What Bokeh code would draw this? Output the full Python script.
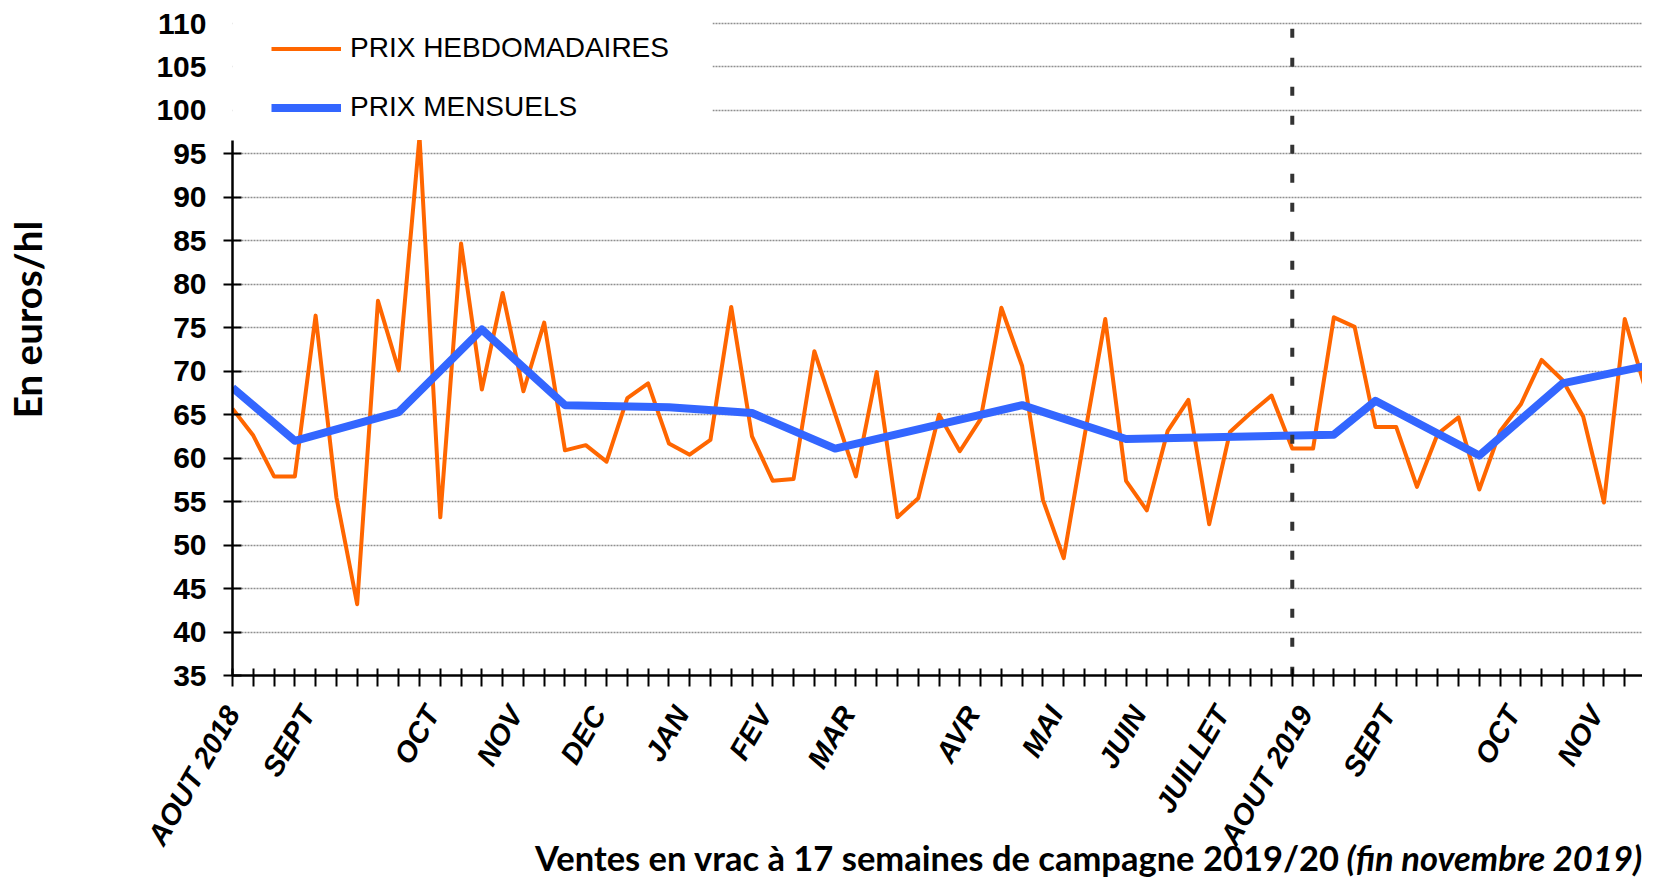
import math
from bokeh.plotting import figure
from bokeh.models import (Range1d, FixedTicker, Legend, LegendItem, BoxAnnotation,
                          LinearAxis, Title)
from bokeh.embed import file_html
from bokeh.resources import INLINE

# ---------------- data ----------------
weeks = list(range(70))
weekly_prices = [65.7, 62.6, 57.9, 57.9, 76.4, 55.5, 43.2, 78.1, 70.1, 97.0,
                 53.2, 84.7, 67.9, 79.0, 67.7, 75.6, 60.9, 61.5, 59.6, 66.9,
                 68.6, 61.7, 60.4, 62.1, 77.4, 62.5, 57.4, 57.6, 72.3, 65.1,
                 57.9, 69.9, 53.2, 55.4, 65.0, 60.8, 64.5, 77.3, 70.6, 55.2,
                 48.5, 62.5, 76.0, 57.4, 54.0, 63.1, 66.7, 52.4, 63.0, 65.2,
                 67.2, 61.1, 61.1, 76.2, 75.1, 63.6, 63.6, 56.7, 62.8, 64.7,
                 56.4, 63.1, 66.2, 71.3, 69.0, 64.8, 54.9, 76.0, 67.9, 81.0]

month_weeks = [0, 3, 8, 12, 16, 21, 25, 29, 38, 43, 53, 55, 60, 64, 69]
monthly_prices = [68.1, 62.0, 65.3, 74.8, 66.1, 65.85, 65.2, 61.1, 66.1, 62.2,
                  62.7, 66.6, 60.3, 68.6, 71.1]

label_weeks = [0, 4, 10, 14, 18, 22, 26, 30, 36, 40, 44, 48, 52, 56, 62, 66]
month_labels = ["AOUT 2018", "SEPT", "OCT", "NOV", "DEC", "JAN", "FEV", "MAR",
                "AVR", "MAI", "JUIN", "JUILLET", "AOUT 2019", "SEPT", "OCT", "NOV"]

y_ticks = [35, 40, 45, 50, 55, 60, 65, 70, 75, 80, 85, 90, 95, 100, 105, 110]
campaign_break_week = 51

series_names = ["PRIX HEBDOMADAIRES", "PRIX MENSUELS"]
y_title = "En euros/hl"
x_title_main = "Ventes en vrac à 17 semaines de campagne 2019/20"
x_title_italic = "(fin novembre 2019)"

# ---------------- layout ----------------
W, H = 1642, 880
left_b, top_b, bottom_b = 232, 21, 205
frame_w = W - left_b
px_per_week = 20.78
px_per_unit = 8.693
y_top = 35 + (H - bottom_b - top_b) / px_per_unit
axis_top_value = 96.6          # y axis line stops under the legend area
label_shift = 8 / px_per_week  # Excel puts the rotated label end on the tick

p = figure(width=W, height=H, output_backend="svg", toolbar_location=None,
           x_range=Range1d(0, frame_w / px_per_week), y_range=Range1d(35, y_top),
           min_border_left=left_b, min_border_right=0, min_border_top=top_b,
           min_border_bottom=bottom_b)
p.outline_line_color = None
p.background_fill_color = "white"

def bare(ax):
    ax.axis_line_color = None
    ax.major_tick_line_color = None
    ax.minor_tick_line_color = None
    ax.major_tick_in = 0
    ax.major_tick_out = 0
    ax.minor_tick_in = 0
    ax.minor_tick_out = 0

# ---- x axis: weekly tick marks ----
xa = p.xaxis[0]
xa.ticker = FixedTicker(ticks=weeks)
xa.major_label_overrides = {w: "" for w in weeks}
xa.major_label_text_font_size = "1px"
xa.major_label_standoff = 0
xa.axis_line_width = 2.5
xa.axis_line_color = "black"
xa.major_tick_line_width = 2
xa.major_tick_line_color = "black"
xa.major_tick_in = 7
xa.major_tick_out = 11
xa.minor_tick_line_color = None

# ---- x axis: month labels ----
lab_ticks = [max(0.0, w - label_shift) for w in label_weeks]
xl = LinearAxis(ticker=FixedTicker(ticks=lab_ticks),
                major_label_overrides={t: s for t, s in zip(lab_ticks, month_labels)},
                major_label_orientation=math.radians(60),
                major_label_text_font="Liberation Sans",
                major_label_text_font_style="bold italic",
                major_label_text_font_size="29px", major_label_text_color="black",
                major_label_standoff=22)
bare(xl)
p.add_layout(xl, "below")

# ---- x title (bold part, centred under the plot) ----
xt = LinearAxis(ticker=FixedTicker(ticks=[]), axis_label=x_title_main,
                axis_label_text_font="Lato", axis_label_text_font_style="bold",
                axis_label_text_font_size="34.5px", axis_label_text_color="black",
                axis_label_standoff=-25, major_label_standoff=0)
bare(xt)
p.add_layout(xt, "below")

# ---- x title (italic part, same line) ----
xt2 = Title(text=x_title_italic, align="left", offset=1346 - left_b,
            vertical_align="top", standoff=-88, text_font="Lato",
            text_font_style="bold italic", text_font_size="34.5px", text_color="black")
p.add_layout(xt2, "below")

# ---- y axis: line + ticks ----
ya = p.yaxis[0]
ya.ticker = FixedTicker(ticks=[t for t in y_ticks if t <= axis_top_value])
ya.bounds = (35, axis_top_value)
ya.major_label_overrides = {t: "" for t in y_ticks}
ya.major_label_text_font_size = "1px"
ya.major_label_standoff = 0
ya.axis_line_width = 2.5
ya.axis_line_color = "black"
ya.major_tick_line_width = 2
ya.major_tick_line_color = "black"
ya.major_tick_in = 9
ya.major_tick_out = 9
ya.minor_tick_line_color = None

# ---- y axis: tick labels ----
yl = LinearAxis(ticker=FixedTicker(ticks=y_ticks), major_label_standoff=17,
                major_label_text_font="Liberation Sans",
                major_label_text_font_style="bold", major_label_text_font_size="30px",
                major_label_text_color="black")
bare(yl)
p.add_layout(yl, "left")

# ---- y title (lead spacing lifts it above the frame centre, as in the original) ----
yt = LinearAxis(ticker=FixedTicker(ticks=[]), axis_label="\u2003\u2002\u2005" + y_title,
                axis_label_text_font="Lato", axis_label_text_font_style="bold",
                axis_label_text_font_size="38.5px", axis_label_text_color="black",
                axis_label_standoff=104, major_label_standoff=0)
bare(yt)
p.add_layout(yt, "left")

p.xgrid.visible = False
p.ygrid.ticker = FixedTicker(ticks=y_ticks)
p.ygrid.grid_line_color = "#8f8f8f"
p.ygrid.grid_line_width = 1.5
p.ygrid.grid_line_dash = "2 1"

# ---- series ----
r1 = p.line(weeks, weekly_prices, line_color="#FF6600", line_width=4, line_join="round")
r2 = p.line(month_weeks, monthly_prices, line_color="#3366FF", line_width=8, line_join="round")
p.line([campaign_break_week, campaign_break_week], [109.4, 35], line_color="#333333",
       line_width=4, line_dash="9 20")

# white legend area (covers upper left of plot)
cover = BoxAnnotation(right=(712 - left_b) / px_per_week, bottom=axis_top_value,
                      fill_color="white", fill_alpha=1.0, line_alpha=0)
p.add_layout(cover)

legend = Legend(items=[LegendItem(label=series_names[0], renderers=[r1]),
                       LegendItem(label=series_names[1], renderers=[r2])],
                location=(39, 552), orientation="vertical", padding=10, margin=0,
                spacing=27, glyph_width=70, glyph_height=31, label_height=31,
                label_standoff=9, label_text_font="Liberation Sans",
                label_text_font_size="28px", label_text_color="black",
                background_fill_alpha=0, border_line_color=None)
legend.level = "overlay"
p.add_layout(legend)

open("out.html", "w").write(file_html(p, INLINE))
